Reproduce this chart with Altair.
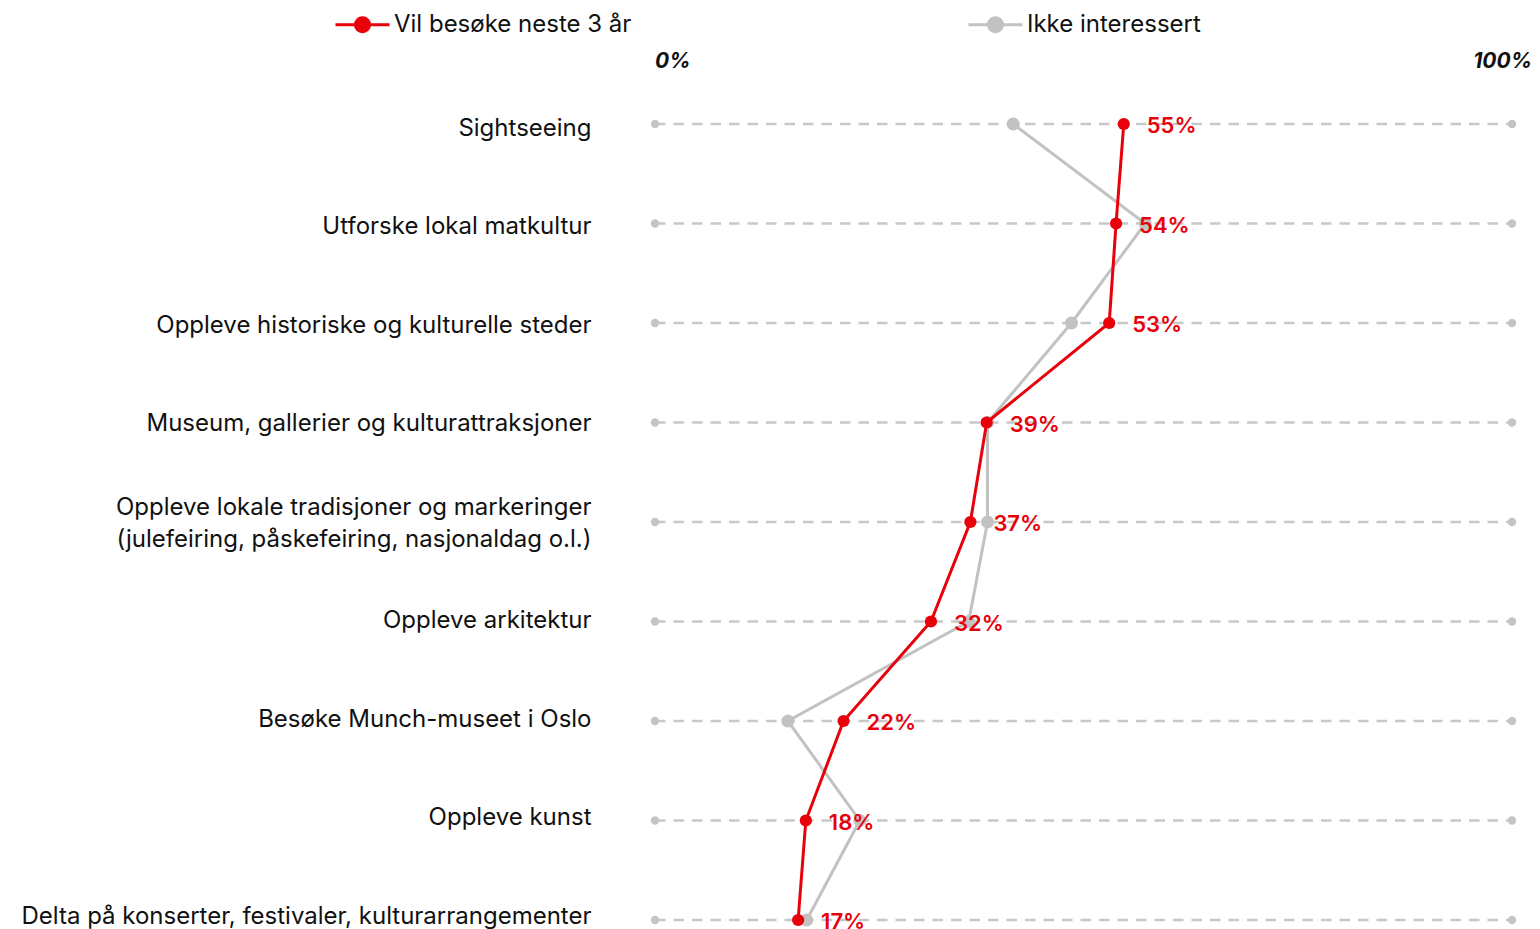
import altair as alt
import pandas as pd

categories = [
    "Sightseeing",
    "Utforske lokal matkultur",
    "Oppleve historiske og kulturelle steder",
    "Museum, gallerier og kulturattraksjoner",
    "Oppleve lokale tradisjoner og markeringer|(julefeiring, påskefeiring, nasjonaldag o.l.)",
    "Oppleve arkitektur",
    "Besøke Munch-museet i Oslo",
    "Oppleve kunst",
    "Delta på konserter, festivaler, kulturarrangementer",
]
series = ["Vil besøke neste 3 år", "Ikke interessert"]
vil_besoke = [54.7, 53.8, 53.0, 38.7, 36.8, 32.2, 22.0, 17.6, 16.7]
ikke_interessert = [41.8, 57.2, 48.6, 38.8, 38.8, 36.6, 15.5, 23.9, 17.7]
axis_ticks = [0, 100]
axis_tick_labels = ["0%", "100%"]

RED = "#e8000b"
GRAY = "#c2c2c2"
FONT = "Inter"
TXT = 24

rows = []
for i, c in enumerate(categories):
    rows.append({"cat": c, "idx": i, "series": series[0], "value": vil_besoke[i]})
    rows.append({"cat": c, "idx": i, "series": series[1], "value": ikke_interessert[i]})
df = pd.DataFrame(rows)
red_df = df[df.series == series[0]]
gray_df = df[df.series == series[1]]
grid_df = pd.DataFrame({"cat": categories, "start": [axis_ticks[0]] * len(categories),
                        "end": [axis_ticks[1]] * len(categories)})
dots_df = pd.DataFrame([{"cat": c, "value": v} for c in categories for v in axis_ticks])
ticks_df = pd.DataFrame({"value": axis_ticks, "label": axis_tick_labels})

# category labels sit on a slightly tighter spacing than the rows
label_conditions = []
for i, c in enumerate(categories):
    off = 4 - i
    if "|" in c:
        off -= 15
    if off != 0:
        label_conditions.append({"test": "datum.value == '%s'" % c, "value": off})

xscale = alt.Scale(domain=[0, 100])
y_enc = alt.Y(
    "cat:N",
    sort=categories,
    scale=alt.Scale(type="point", padding=0),
    axis=alt.Axis(
        title=None, ticks=False, domain=False, grid=False,
        labelPadding=64, labelFontSize=TXT, labelColor="#111111", labelFont=FONT,
        labelLimit=700, labelLineHeight=32, labelBaseline="middle",
        labelExpr="split(datum.value, '|')",
        labelOffset={"condition": label_conditions, "value": 0},
    ),
)
color_enc = alt.Color(
    "series:N",
    sort=series,
    scale=alt.Scale(domain=series, range=[RED, GRAY]),
    legend=alt.Legend(
        title=None, orient="none", direction="horizontal",
        legendX=-321, legendY=-128, padding=0,
        symbolType="M-1,0L-0.26,0M0.26,0L1,0M-0.26,0A0.26,0.26,0,1,1,0.26,0A0.26,0.26,0,1,1,-0.26,0Z",
        symbolSize=2916, symbolStrokeWidth=3, symbolOpacity=1,
        labelFontSize=TXT, labelFont=FONT, labelColor="#111111", labelOffset=3,
        labelLimit=500, columnPadding=330,
    ),
)

grid = alt.Chart(grid_df).mark_rule(color="#c8c8c8", strokeWidth=2.5, strokeDash=[10.5, 8]).encode(
    y=y_enc, x=alt.X("start:Q", scale=xscale, axis=None), x2="end:Q")
dots = alt.Chart(dots_df).mark_circle(size=70, color="#c4c4c4", opacity=1).encode(
    y=y_enc, x=alt.X("value:Q", scale=xscale, axis=None))

gray_line = alt.Chart(gray_df).mark_line(strokeWidth=3).encode(
    y=y_enc, x=alt.X("value:Q", scale=xscale, axis=None), color=color_enc, order="idx:Q")
gray_pts = alt.Chart(gray_df).mark_circle(size=170, opacity=1).encode(
    y=y_enc, x=alt.X("value:Q", scale=xscale, axis=None), color=color_enc)
red_line = alt.Chart(red_df).mark_line(strokeWidth=3).encode(
    y=y_enc, x=alt.X("value:Q", scale=xscale, axis=None), color=color_enc, order="idx:Q")
red_pts = alt.Chart(red_df).mark_circle(size=150, opacity=1).encode(
    y=y_enc, x=alt.X("value:Q", scale=xscale, axis=None), color=color_enc)

labels = alt.Chart(red_df).transform_calculate(
    lab="format(datum.value, '.0f') + '%'"
).mark_text(align="left", baseline="middle", dx=23, dy=2, fontSize=22, fontWeight=600,
            font=FONT, color=RED).encode(
    y=y_enc, x=alt.X("value:Q", scale=xscale, axis=None), text="lab:N")

tick0 = alt.Chart(ticks_df.iloc[[0]]).mark_text(
    align="left", baseline="middle", fontSize=21, fontWeight="bold", fontStyle="italic",
    font=FONT, color="#111111").encode(
    x=alt.X("value:Q", scale=xscale, axis=None), y=alt.value(-62), text="label:N")
tick1 = alt.Chart(ticks_df.iloc[[1]]).mark_text(
    align="right", baseline="middle", dx=20, fontSize=21, fontWeight="bold", fontStyle="italic",
    font=FONT, color="#111111").encode(
    x=alt.X("value:Q", scale=xscale, axis=None), y=alt.value(-62), text="label:N")

chart = alt.layer(grid, dots, gray_line, gray_pts, red_line, red_pts, labels, tick0, tick1).properties(
    width=857, height=796,
    padding={"left": 647, "top": 116, "right": 20, "bottom": 9},
    autosize="none",
).configure(font=FONT).configure_view(strokeWidth=0, stroke="transparent")

chart.save("out.html", embed_options={"renderer": "svg", "actions": False})
